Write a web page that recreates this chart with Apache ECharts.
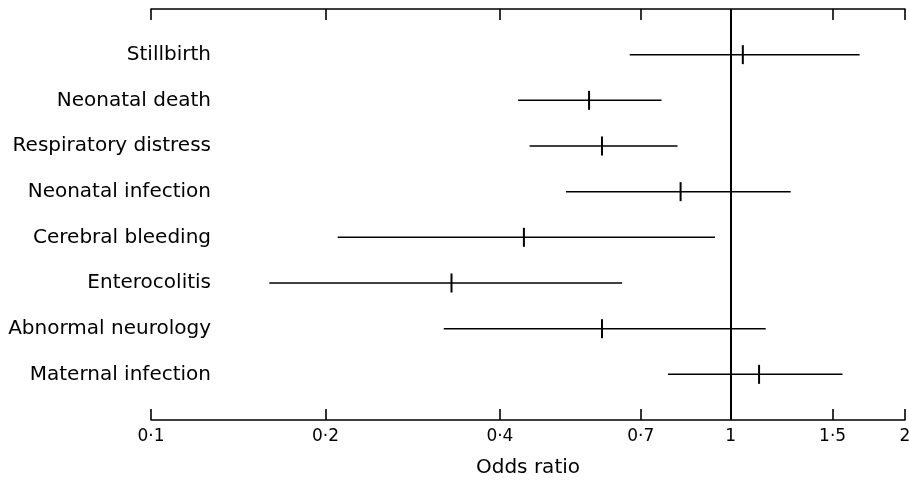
<!DOCTYPE html>
<html lang="en">
<head>
    <meta charset="UTF-8">
    <title>Odds ratio forest plot</title>
    <style>
        body, html {
            background-color: #ffffff;
            margin: 0;
            padding: 0;
            height: 100%;
            width: 100%;
            overflow: hidden;
        }
        #main {
            width: 909px;
            height: 488px;
        }
    </style>
    <script src="https://cdn.jsdelivr.net/npm/echarts@6.0.0/dist/echarts.min.js"></script>
</head>
<body>
    <div id="main"></div>

    <script>
        // rows, top to bottom
        var outcomes = ["Stillbirth", "Neonatal death", "Respiratory distress", "Neonatal infection",
                        "Cerebral bleeding", "Enterocolitis", "Abnormal neurology", "Maternal infection"];
        var oddsRatio = [1.05, 0.57, 0.60, 0.82, 0.44, 0.33, 0.60, 1.12];
        var lowerCI   = [0.67, 0.43, 0.45, 0.52, 0.21, 0.16, 0.32, 0.78];
        var upperCI   = [1.67, 0.76, 0.81, 1.27, 0.94, 0.65, 1.15, 1.56];

        var tickValues = [0.1, 0.2, 0.4, 0.7, 1, 1.5, 2];
        var tickLabels = ["0·1", "0·2", "0·4", "0·7", "1", "1·5", "2"];

        var font = "DejaVu Sans";

        function tickLabel(v) {
            var idx = tickValues.findIndex(function (t) { return Math.abs(t - v) < t * 1e-4; });
            return idx >= 0 ? tickLabels[idx] : "";
        }

        var rows = outcomes.map(function (name, i) {
            return [lowerCI[i], oddsRatio[i], upperCI[i], i];
        });

        var my_chart = echarts.init(document.getElementById("main"));

        var option = {
            animation: false,
            backgroundColor: "#ffffff",
            grid: {
                left: 151,
                right: 4,
                top: 9,
                bottom: 68,
                outerBoundsMode: "none"
            },
            xAxis: [
                {
                    type: "log",
                    min: 0.1,
                    max: 2,
                    position: "bottom",
                    axisLine: { onZero: false, lineStyle: { color: "#000", width: 1.6 } },
                    axisTick: { inside: true, length: 11, customValues: tickValues,
                                lineStyle: { color: "#000", width: 1.6 } },
                    axisLabel: { customValues: tickValues, formatter: tickLabel, margin: 8,
                                 fontSize: 17, color: "#000", fontFamily: font },
                    splitLine: { show: false },
                    minorTick: { show: false },
                    name: "Odds ratio",
                    nameLocation: "middle",
                    nameGap: 38,
                    nameTextStyle: { fontSize: 20, color: "#000", fontFamily: font }
                },
                {
                    type: "log",
                    min: 0.1,
                    max: 2,
                    position: "top",
                    axisLine: { onZero: false, lineStyle: { color: "#000", width: 1.6 } },
                    axisTick: { inside: true, length: 11, customValues: tickValues,
                                lineStyle: { color: "#000", width: 1.6 } },
                    axisLabel: { show: false },
                    splitLine: { show: false },
                    minorTick: { show: false }
                }
            ],
            yAxis: {
                type: "value",
                inverse: true,
                min: -1,
                max: 8,
                interval: 1,
                axisLine: { show: false },
                axisTick: { show: false },
                splitLine: { show: false },
                axisLabel: {
                    margin: -60,
                    fontSize: 20,
                    color: "#000",
                    fontFamily: font,
                    formatter: function (v) { return outcomes[v] || ""; }
                }
            },
            series: [
                {
                    type: "custom",
                    xAxisIndex: 0,
                    data: rows,
                    encode: { x: [0, 1, 2], y: 3 },
                    renderItem: function (params, api) {
                        var y = api.value(3);
                        var lo = api.coord([api.value(0), y]);
                        var est = api.coord([api.value(1), y]);
                        var hi = api.coord([api.value(2), y]);
                        return {
                            type: "group",
                            children: [
                                {
                                    type: "line",
                                    shape: { x1: lo[0], y1: lo[1], x2: hi[0], y2: hi[1] },
                                    style: { stroke: "#000", lineWidth: 1.5 }
                                },
                                {
                                    type: "line",
                                    shape: { x1: est[0], y1: est[1] - 9.5, x2: est[0], y2: est[1] + 9.5 },
                                    style: { stroke: "#000", lineWidth: 2 }
                                }
                            ]
                        };
                    },
                    markLine: {
                        silent: true,
                        symbol: "none",
                        label: { show: false },
                        lineStyle: { color: "#000", width: 2, type: "solid" },
                        data: [{ xAxis: 1 }]
                    }
                }
            ]
        };

        my_chart.setOption(option);
    </script>
</body>
</html>
